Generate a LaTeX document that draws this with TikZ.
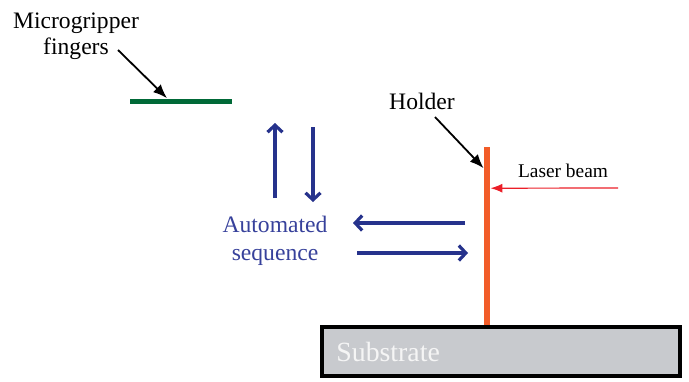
\documentclass[tikz,border=0pt]{standalone}
\usepackage{fontspec}
\setmainfont{Liberation Serif}
\usetikzlibrary{positioning}
\usetikzlibrary{arrows.meta}

\definecolor{fingergreen}{RGB}{0,105,55}
\definecolor{seqblue}{RGB}{38,50,140}
\definecolor{seqtext}{RGB}{55,65,155}
\definecolor{holderorange}{RGB}{242,92,40}
\definecolor{substrategray}{RGB}{200,202,206}
\definecolor{laserred}{RGB}{235,30,40}

\tikzset{
    labeltext/.style={font=\fontsize{11.8}{13}\selectfont, inner sep=0pt},
    pointer/.style={draw=black, line width=0.9pt, -{Latex[length=7pt, width=5.5pt]}},
    seqarrow/.style={draw=seqblue, line width=1.6pt, -{Straight Barb[length=3.5pt, width=7.5pt]}}
}

\begin{document}
\begin{tikzpicture}[x=0.5pt, y=-0.5pt]
    \useasboundingbox (0,0) rectangle (689,381);

    \node (substrate) [rectangle, minimum width=179pt, minimum height=24.5pt, line width=2pt, draw=black, fill=substrategray] at (501,351.5) {};
    \node (substratetext) [anchor=west, inner sep=0pt, text=white!92!gray, font=\fontsize{13.9}{16}\selectfont] at (336,352) {Substrate};

    \node (holder) [rectangle, inner sep=0pt, minimum width=3pt, minimum height=89pt, fill=holderorange, above=0pt of substrate.north, xshift=-7pt] {};

    \node (fingers) [rectangle, inner sep=0pt, minimum width=51pt, minimum height=2.5pt, fill=fingergreen] at (181,101) {};

    \node (fingerlabel) [labeltext, align=center] at (76,36) {Microgripper\\fingers};
    \coordinate (fingertail) at (118,50);
    \draw [pointer] (fingertail) -- ([xshift=-7pt]fingers.north);

    \node (holderlabel) [labeltext] at (422,101) {Holder};
    \coordinate (holdertail) at (435,117);
    \draw [pointer] (holdertail) -- ([yshift=-11pt]holder.north west);

    \node (laserlabel) [inner sep=0pt, font=\fontsize{9.7}{11}\selectfont] at (563,171) {Laser beam};
    \coordinate (lasertail) at (618,188);
    \draw [draw=laserred, line width=0.6pt, -{Latex[length=6pt, width=4.5pt]}] (lasertail) -- ([yshift=-21pt]holder.north east);

    \node (sequence) [labeltext, align=center, text=seqtext, font=\fontsize{11.8}{14}\selectfont] at (275,241) {Automated\\sequence};

    % moves of the fingers
    \coordinate (upstart) at (275,198);
    \coordinate (upend) at (275,123);
    \coordinate (downstart) at (313,127);
    \coordinate (downend) at (313,202);
    \coordinate (leftstart) at (465,223);
    \coordinate (leftend) at (353,223);
    \coordinate (rightstart) at (357,253);
    \coordinate (rightend) at (468,253);
    \draw [seqarrow] (upstart) -- (upend);
    \draw [seqarrow] (downstart) -- (downend);
    \draw [seqarrow] (leftstart) -- (leftend);
    \draw [seqarrow] (rightstart) -- (rightend);
\end{tikzpicture}
\end{document}
